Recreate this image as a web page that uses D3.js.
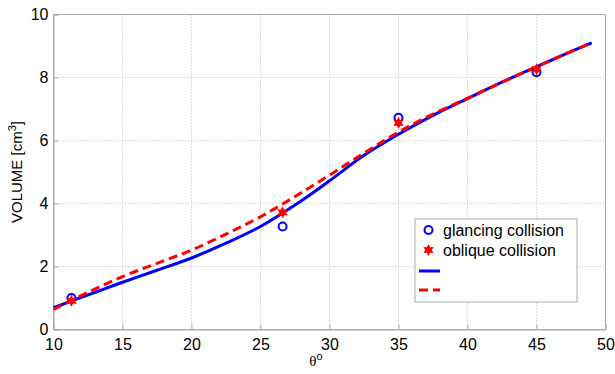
<!DOCTYPE html>
<html lang="en">
<head>
    <meta charset="UTF-8">
    <title>Volume vs angle</title>
    <script src="https://d3js.org/d3.v7.min.js"></script>
    <style>
        body { margin: 0; background: #fff; }
        text { font-family: Arial, "Liberation Sans", sans-serif; }
    </style>
</head>
<body>
    <script type="text/javascript">

        // measured points
        var angles = [11.3, 26.6, 35, 45];
        var glancing = [1.0, 3.27, 6.72, 8.17];
        var oblique = [0.91, 3.72, 6.56, 8.26];

        // fitted curves
        var curveX = [10, 12.5, 15, 17.5, 20, 22.5, 25, 27.5, 30, 32.5, 35, 37.5, 40, 42.5, 45, 47, 49];
        var solidY = [0.69, 1.1, 1.5, 1.88, 2.27, 2.74, 3.27, 3.95, 4.72, 5.53, 6.2, 6.8, 7.33, 7.85, 8.34, 8.73, 9.1];
        var dashedY = [0.64, 1.18, 1.68, 2.1, 2.52, 3.03, 3.58, 4.22, 4.9, 5.6, 6.27, 6.84, 7.34, 7.85, 8.34, 8.73, 9.1];

        var xTicks = [10, 15, 20, 25, 30, 35, 40, 45, 50];
        var yTicks = [0, 2, 4, 6, 8, 10];
        var legendLabels = ["glancing collision", "oblique collision", "", ""];

        var w = 615, h = 374;
        var mLeft = 53.5, mRight = 605.5, mTop = 14.5, mBottom = 329.5;

        var svg = d3.select("body").append("svg")
            .attr("width", w)
            .attr("height", h);

        var x = d3.scaleLinear().domain([10, 50]).range([mLeft, mRight]);
        var y = d3.scaleLinear().domain([0, 10]).range([mBottom, mTop]);

        // grid
        svg.append("g").selectAll("line")
            .data(xTicks.slice(1, -1))
            .enter().append("line")
            .attr("x1", function (d) { return x(d); })
            .attr("x2", function (d) { return x(d); })
            .attr("y1", mTop).attr("y2", mBottom)
            .attr("stroke", "#bbbbbb").attr("stroke-width", 1)
            .attr("stroke-dasharray", "1,2");
        svg.append("g").selectAll("line")
            .data(yTicks.slice(1, -1))
            .enter().append("line")
            .attr("y1", function (d) { return y(d); })
            .attr("y2", function (d) { return y(d); })
            .attr("x1", mLeft).attr("x2", mRight)
            .attr("stroke", "#bbbbbb").attr("stroke-width", 1)
            .attr("stroke-dasharray", "1,2");

        // axes
        var xAxis = svg.append("g")
            .attr("transform", "translate(0," + mBottom + ")")
            .call(d3.axisBottom(x).tickValues(xTicks).tickSize(-5).tickPadding(9));
        var yAxis = svg.append("g")
            .attr("transform", "translate(" + mLeft + ",0)")
            .call(d3.axisLeft(y).tickValues(yTicks).tickSize(-5).tickPadding(5));
        [xAxis, yAxis].forEach(function (a) {
            a.select(".domain").attr("stroke", "#aaaaaa");
            a.selectAll(".tick line").attr("stroke", "#aaaaaa");
            a.selectAll("text").attr("font-size", 16).attr("fill", "#000")
                .style("font-family", "Arial, 'Liberation Sans', sans-serif");
        });
        svg.append("rect")
            .attr("x", mLeft).attr("y", mTop)
            .attr("width", mRight - mLeft).attr("height", mBottom - mTop)
            .attr("fill", "none").attr("stroke", "#aaaaaa");

        // curves
        var line = d3.line()
            .x(function (d) { return x(d[0]); })
            .y(function (d) { return y(d[1]); })
            .curve(d3.curveCatmullRom.alpha(0.5));

        svg.append("path")
            .datum(d3.zip(curveX, solidY))
            .attr("d", line)
            .attr("fill", "none").attr("stroke", "#0000ff").attr("stroke-width", 3);
        svg.append("path")
            .datum(d3.zip(curveX, dashedY))
            .attr("d", line)
            .attr("fill", "none").attr("stroke", "#ff0000").attr("stroke-width", 3)
            .attr("stroke-dasharray", "9,5");

        // markers
        function hexStar(r) {
            var pts = [];
            for (var i = 0; i < 12; i++) {
                var a = Math.PI / 6 * i - Math.PI / 2;
                var rr = i % 2 === 0 ? r : r * 0.55;
                pts.push([rr * Math.cos(a), rr * Math.sin(a)]);
            }
            return "M" + pts.join("L") + "Z";
        }

        svg.append("g").selectAll("circle")
            .data(d3.zip(angles, glancing))
            .enter().append("circle")
            .attr("cx", function (d) { return x(d[0]); })
            .attr("cy", function (d) { return y(d[1]); })
            .attr("r", 4)
            .attr("fill", "none").attr("stroke", "#0000ff").attr("stroke-width", 2);

        svg.append("g").selectAll("path")
            .data(d3.zip(angles, oblique))
            .enter().append("path")
            .attr("transform", function (d) { return "translate(" + x(d[0]) + "," + y(d[1]) + ")"; })
            .attr("d", hexStar(6))
            .attr("fill", "#ff0000");

        // legend
        var lg = svg.append("g");
        lg.append("rect")
            .attr("x", 415).attr("y", 219).attr("width", 162).attr("height", 83)
            .attr("fill", "#fff").attr("stroke", "#aaaaaa");
        var rowY = [230, 250, 271, 290];
        lg.append("circle").attr("cx", 428.5).attr("cy", rowY[0]).attr("r", 4)
            .attr("fill", "none").attr("stroke", "#0000ff").attr("stroke-width", 2);
        lg.append("path").attr("transform", "translate(428.5," + rowY[1] + ")")
            .attr("d", hexStar(6)).attr("fill", "#ff0000");
        lg.append("line").attr("x1", 419).attr("x2", 440).attr("y1", rowY[2]).attr("y2", rowY[2])
            .attr("stroke", "#0000ff").attr("stroke-width", 3);
        lg.append("line").attr("x1", 419).attr("x2", 440).attr("y1", rowY[3]).attr("y2", rowY[3])
            .attr("stroke", "#ff0000").attr("stroke-width", 3).attr("stroke-dasharray", "9,5");
        lg.selectAll("text.lab")
            .data(legendLabels)
            .enter().append("text")
            .attr("class", "lab")
            .attr("x", 443)
            .attr("y", function (d, i) { return rowY[i] + 6; })
            .attr("font-size", 16)
            .text(function (d) { return d; });

        // axis labels
        var yl = svg.append("text")
            .attr("transform", "translate(22,172) rotate(-90)")
            .attr("text-anchor", "middle")
            .attr("font-size", 15);
        yl.append("tspan").text("VOLUME [cm");
        yl.append("tspan").attr("font-size", 11).attr("dy", -6).text("3");
        yl.append("tspan").attr("dy", 6).text("]");

        var xl = svg.append("text")
            .attr("x", 316).attr("y", 366)
            .attr("text-anchor", "middle")
            .attr("font-size", 15);
        xl.append("tspan").style("font-family", "'Liberation Serif', 'DejaVu Serif', serif").text("θ");
        xl.append("tspan").attr("font-size", 11).attr("dy", -6).text("o");

    </script>
</body>
</html>
